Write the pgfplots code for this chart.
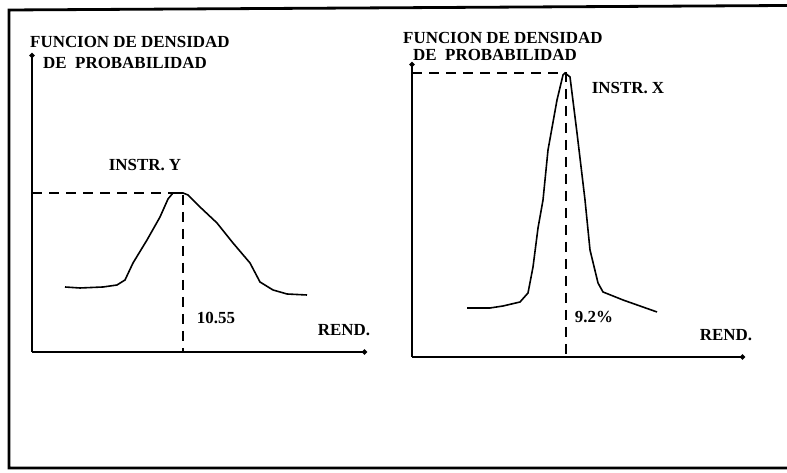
\documentclass[border=0pt]{standalone}
\usepackage{pgfplots}
\pgfplotsset{compat=1.18}
\usepackage{fontspec}
\setmainfont{Liberation Serif}
\usetikzlibrary{arrows.meta}
\newcommand{\lab}{\fontsize{17}{18}\selectfont\bfseries}
\begin{document}
\begin{tikzpicture}[x=1bp,y=1bp]
\useasboundingbox (0,0) rectangle (787,473);
% outer frame (top, left, bottom)
\draw[line width=2.8bp] (787,467.5) -- (9,463) -- (9,5) -- (787,5);
\pgfplotsset{
  densaxis/.style={
    scale only axis, anchor=origin,
    axis lines=left, xtick=\empty, ytick=\empty,
    clip=false,
    axis line style={line width=2.2bp},
    x axis line style={-{Circle[length=5bp]}},
    y axis line style={-{Circle[length=5bp]}},
  }
}
% ---------- left: INSTR. Y ----------
\begin{axis}[densaxis, at={(32bp,121bp)}, width=335bp, height=299bp,
  xmin=0, xmax=335, ymin=0, ymax=299]
\addplot[black, line width=1.6bp] coordinates {
 (33,65) (48,64) (71,65) (85,67) (93,72) (101,89) (115,112) (128,135)
 (136,153) (141,159) (151,159) (156,157) (168,145) (185,129) (201,109)
 (218,89) (228,70) (241,62) (255,58) (275,57)};
\addplot[black, line width=1.6bp, dash pattern=on 10bp off 7bp] coordinates {(0,159) (151,159) (151,0)};
\node[anchor=west, font=\lab, inner xsep=0pt] at (axis cs:-2,310) {FUNCION DE DENSIDAD};
\node[anchor=west, font=\lab, inner xsep=0pt] at (axis cs:11,289) {DE \ PROBABILIDAD};
\node[font=\lab] at (axis cs:113,187) {INSTR. Y};
\node[font=\lab] at (axis cs:184,34) {10.55};
\node[font=\lab] at (axis cs:312,22) {REND.};
\end{axis}
% ---------- right: INSTR. X ----------
\begin{axis}[densaxis, at={(412bp,116bp)}, width=333bp, height=295bp,
  xmin=0, xmax=333, ymin=0, ymax=295]
\addplot[black, line width=1.6bp] coordinates {
 (55,49) (78,49) (91,51) (108,55) (116,64) (121,90) (126,129) (131,157)
 (136,207) (145,257) (151,282) (153,284) (158,280) (165,224) (173,157)
 (178,107) (186,74) (191,65) (211,57) (245,45)};
\addplot[black, line width=1.6bp, dash pattern=on 10bp off 7bp] coordinates {(0,284) (154,284) (154,0)};
\node[anchor=west, font=\lab, inner xsep=0pt] at (axis cs:-9,319) {FUNCION DE DENSIDAD};
\node[anchor=west, font=\lab, inner xsep=0pt] at (axis cs:1,302) {DE \ PROBABILIDAD};
\node[font=\lab] at (axis cs:216,269) {INSTR. X};
\node[font=\lab] at (axis cs:182,40) {9.2\%};
\node[font=\lab] at (axis cs:314,22) {REND.};
\end{axis}
\end{tikzpicture}
\end{document}
